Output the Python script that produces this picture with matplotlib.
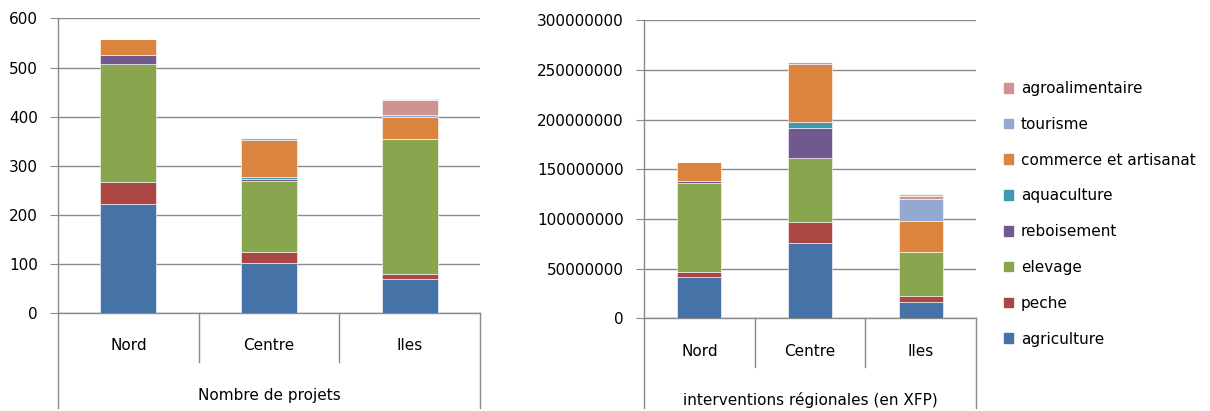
import numpy as np
import matplotlib
matplotlib.use("Agg")
import matplotlib.pyplot as plt
from matplotlib.ticker import FuncFormatter, MultipleLocator
from matplotlib.transforms import blended_transform_factory
from matplotlib.patches import Patch

plt.rcParams['font.family'] = ['DejaVu Sans']

regions = ['Nord', 'Centre', 'Iles']
sectors = ['agriculture', 'peche', 'elevage', 'reboisement', 'aquaculture',
           'commerce et artisanat', 'tourisme', 'agroalimentaire', 'autres']
colors = ['#4572A7', '#AA4643', '#89A54E', '#71588F', '#4198AF',
          '#DB843D', '#93A9CF', '#D19392', '#B9CD96']

# number of projects per sector and region
projets_agriculture = [222, 101, 68]
projets_peche = [44, 23, 11]
projets_elevage = [242, 144, 275]
projets_reboisement = [17, 5, 0]
projets_aquaculture = [0, 3, 0]
projets_commerce = [33, 77, 45]
projets_tourisme = [0, 3, 5]
projets_agroalimentaire = [0, 0, 29]
projets_autres = [0, 0, 3]

# regional funding per sector (XFP)
xfp_agriculture = [42000000, 75500000, 16000000]
xfp_peche = [5000000, 21000000, 6500000]
xfp_elevage = [89000000, 64500000, 44000000]
xfp_reboisement = [2300000, 31000000, 0]
xfp_aquaculture = [0, 5700000, 0]
xfp_commerce = [19500000, 58000000, 31500000]
xfp_tourisme = [0, 2000000, 22000000]
xfp_agroalimentaire = [0, 0, 3300000]
xfp_autres = [0, 0, 1700000]

projets = [projets_agriculture, projets_peche, projets_elevage, projets_reboisement,
           projets_aquaculture, projets_commerce, projets_tourisme,
           projets_agroalimentaire, projets_autres]
xfp = [xfp_agriculture, xfp_peche, xfp_elevage, xfp_reboisement, xfp_aquaculture,
       xfp_commerce, xfp_tourisme, xfp_agroalimentaire, xfp_autres]

W, H = 1210, 411
GRID = '#8a8a8a'
FS = 11


def box(x0, y0, x1, y1):
    return [x0 / W, 1 - y1 / H, (x1 - x0) / W, (y1 - y0) / H]


def fy(py):
    return 1 - py / H


def draw_panel(ax, series, ymax, step, title, y_axis, y_sep, y_lab, y_title):
    x = np.arange(len(regions))
    bottom = np.zeros(len(regions))
    for vals, name, col in zip(series, sectors, colors):
        vals = np.array(vals, dtype=float)
        ax.bar(x, vals, 0.4, bottom=bottom, color=col, label=name,
               edgecolor='white', linewidth=0.4, zorder=3)
        bottom += vals

    ax.set_xlim(-0.5, len(regions) - 0.5)
    ax.set_ylim(0, ymax)
    ax.yaxis.set_major_locator(MultipleLocator(step))
    ax.yaxis.set_major_formatter(FuncFormatter(lambda v, p: f"{v:.0f}"))
    ax.grid(axis='y', color=GRID, linewidth=1, zorder=0)
    ax.set_xticks([])
    for s in ['top', 'right']:
        ax.spines[s].set_visible(False)
    for s in ['left', 'bottom']:
        ax.spines[s].set_color(GRID)
        ax.spines[s].set_linewidth(1)
    ax.tick_params(axis='y', length=6, color=GRID, pad=8.5, labelsize=FS)

    # two-level category axis below the bars
    tr = blended_transform_factory(ax.transData, ax.figure.transFigure)
    for b in range(1, len(regions)):
        ax.plot([b - 0.5, b - 0.5], [fy(y_axis), fy(y_sep)], color=GRID,
                lw=1, transform=tr, clip_on=False)
    for b in [-0.5, len(regions) - 0.5]:
        ax.plot([b, b], [fy(y_axis), fy(408)], color=GRID,
                lw=1, transform=tr, clip_on=False)
    for i, r in enumerate(regions):
        ax.text(i, fy(y_lab), r, transform=tr, ha='center', va='center', fontsize=FS)
    ax.text((len(regions) - 1) / 2, fy(y_title), title, transform=tr,
            ha='center', va='center', fontsize=FS)


fig = plt.figure(figsize=(W / 100, H / 100), dpi=100)
ax1 = fig.add_axes(box(58, 18.5, 480, 312.7))
ax2 = fig.add_axes(box(644, 20.3, 976, 318.3))

draw_panel(ax1, projets, 600, 100, 'Nombre de projets', 312.7, 362, 345, 395)
draw_panel(ax2, xfp, 300000000, 50000000, 'interventions régionales (en XFP)',
           318.3, 367, 352, 400)

handles = [Patch(color=c, label=n) for n, c in zip(sectors[:8], colors[:8])][::-1]
fig.legend(handles=handles, loc='upper left', bbox_to_anchor=(998 / W, fy(75)),
           frameon=False, fontsize=FS, handlelength=0.6, handleheight=0.6,
           handletextpad=0.5, labelspacing=1.36, borderaxespad=0)

fig.savefig('out.png', dpi=100)
